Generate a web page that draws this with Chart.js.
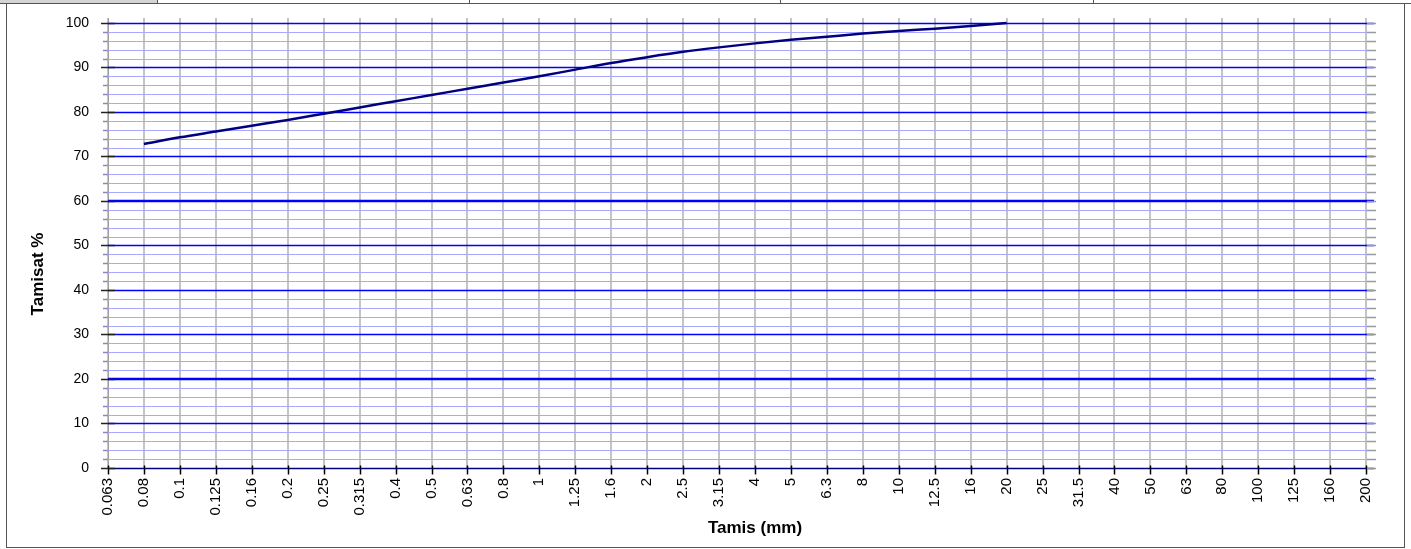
<!DOCTYPE html>
<html><head><meta charset="utf-8">
<script src="https://cdn.jsdelivr.net/npm/chart.js@4/dist/chart.umd.min.js"></script>
<style>
html,body{margin:0;padding:0;background:#fff;width:1411px;height:549px;overflow:hidden}
#wrap{position:absolute;left:0;top:0;width:1411px;height:549px}
#strip{position:absolute;left:0;top:0;width:1411px;height:3px;border-bottom:1px solid #555}
#gray{position:absolute;left:0;top:0;width:157px;height:3px;background:#d4d4d4;border-right:1px solid #555}
.sep{position:absolute;top:0;width:1px;height:4px;background:#555}
#frame{position:absolute;left:6px;top:4px;width:1397px;height:543px;border:1px solid #555;border-top:none;pointer-events:none}
</style></head>
<body>
<div id="wrap"><canvas id="c" width="1411" height="549"></canvas></div>
<div id="strip"></div><div id="gray"></div>
<div class="sep" style="left:469px"></div><div class="sep" style="left:780px"></div><div class="sep" style="left:1093px"></div>
<div id="frame"></div>
<script>
const sieveLabels = ['0.063','0.08','0.1','0.125','0.16','0.2','0.25','0.315','0.4','0.5','0.63','0.8','1','1.25','1.6','2','2.5','3.15','4','5','6.3','8','10','12.5','16','20','25','31.5','40','50','63','80','100','125','160','200'];
const passingSieves = ['0.08','0.1','0.125','0.16','0.2','0.25','0.315','0.4','0.5','0.63','0.8','1','1.25','1.6','2','2.5','3.15','4','5','6.3','8','10','12.5','16','20'];
const passingValues = [72.8,74.3,75.6,76.9,78.2,79.6,81.0,82.4,83.8,85.2,86.6,88.0,89.5,91.0,92.3,93.5,94.5,95.4,96.2,96.9,97.6,98.2,98.7,99.3,100];
const yTickValues = [0,2,4,6,8,10,12,14,16,18,20,22,24,26,28,30,32,34,36,38,40,42,44,46,48,50,52,54,56,58,60,62,64,66,68,70,72,74,76,78,80,82,84,86,88,90,92,94,96,98,100];

const FONT = "'Liberation Sans', Arial, sans-serif";
const points = passingSieves.map((s,i)=>({x: sieveLabels.indexOf(s), y: passingValues[i]}));

const hgrid = {
  id:'hgrid',
  beforeDatasetsDraw(chart){
    const {ctx, chartArea:a, scales:{y}} = chart;
    ctx.save();
    yTickValues.forEach(v=>{
      if (v===0) return;
      const p = Math.round(y.getPixelForValue(v));
      let w, col, py;
      if (v===20 || v===60){ w = 2.4; col = '#0000ff'; py = p; }
      else if (v%10===0){ w = 1.5; col = '#0000ff'; py = p+0.5; }
      else { w = 1.2; col = '#a8a8ff'; py = p+0.5; }
      ctx.strokeStyle = col; ctx.lineWidth = w;
      ctx.beginPath(); ctx.moveTo(a.left, py); ctx.lineTo(a.right, py); ctx.stroke();
    });
    ctx.restore();
  }
};

const decor = {
  id:'decor',
  afterDraw(chart){
    const {ctx, chartArea:a, scales:{x,y}} = chart;
    const y0 = Math.round(y.getPixelForValue(0))+0.5;
    ctx.save();
    ctx.strokeStyle = '#000080'; ctx.lineWidth = 1.6;
    ctx.beginPath(); ctx.moveTo(a.left, y0); ctx.lineTo(a.right, y0); ctx.stroke();
    ctx.strokeStyle = '#000'; ctx.lineWidth = 1.5;
    sieveLabels.forEach((l,i)=>{
      const px = Math.round(x.getPixelForValue(i))+0.5;
      ctx.beginPath(); ctx.moveTo(px, y0-3); ctx.lineTo(px, y0+6); ctx.stroke();
    });
    yTickValues.forEach(v=>{
      const py = Math.round(y.getPixelForValue(v))+0.5;
      if (v%10===0){
        ctx.strokeStyle='#222'; ctx.lineWidth=1.5;
        ctx.beginPath(); ctx.moveTo(101, py); ctx.lineTo(115, py); ctx.stroke();
      } else {
        ctx.strokeStyle='#8a8ab8'; ctx.lineWidth=1.5;
        ctx.beginPath(); ctx.moveTo(103, py); ctx.lineTo(108, py); ctx.stroke();
      }
      ctx.strokeStyle='#9a9a9a'; ctx.lineWidth=1.5;
      ctx.beginPath(); ctx.moveTo(1367, py); ctx.lineTo(1376, py); ctx.stroke();
    });
    ctx.fillStyle='#000';
    ctx.font = "bold 17px " + FONT;
    ctx.textAlign='center'; ctx.textBaseline='middle';
    ctx.fillText('Tamis (mm)', 755, 528);
    ctx.translate(38, 274); ctx.rotate(-Math.PI/2);
    ctx.fillText('Tamisat %', 0, 0);
    ctx.restore();
  }
};

new Chart(document.getElementById('c'), {
  type:'line',
  data:{datasets:[{data:points, borderColor:'#000080', borderWidth:2.5, pointRadius:0, fill:false, cubicInterpolationMode:'monotone'}]},
  options:{
    responsive:false, animation:false, devicePixelRatio:1,
    layout:{padding:{left:0,right:37,top:18,bottom:0}},
    plugins:{legend:{display:false}, tooltip:{enabled:false}},
    scales:{
      x:{type:'linear', min:0, max:35.22,
        afterBuildTicks(s){ s.ticks = sieveLabels.map((l,i)=>({value:i})); },
        afterFit(s){ s.height = 81; s.paddingLeft = 0; s.paddingRight = 0; },
        ticks:{autoSkip:false, minRotation:90, maxRotation:90, padding:10, color:'#000', font:{family:FONT,size:15},
          callback:(v)=>sieveLabels[v]},
        grid:{color:'#c4c4c4', lineWidth:2, tickLength:0, drawTicks:false},
        border:{display:false}
      },
      y:{type:'linear', min:0, max:101.1,
        afterBuildTicks(s){ s.ticks = yTickValues.map(v=>({value:v})); },
        afterFit(s){ s.width = 108; s.paddingTop = 0; s.paddingBottom = 0; },
        ticks:{autoSkip:false, padding:11, color:'#000', font:{family:FONT,size:14},
          callback:(v)=> v%10===0 ? String(v) : ''},
        grid:{display:false},
        border:{display:true, color:'#a0a0a0', width:1}
      }
    }
  },
  plugins:[hgrid, decor]
});
</script>
</body></html>
